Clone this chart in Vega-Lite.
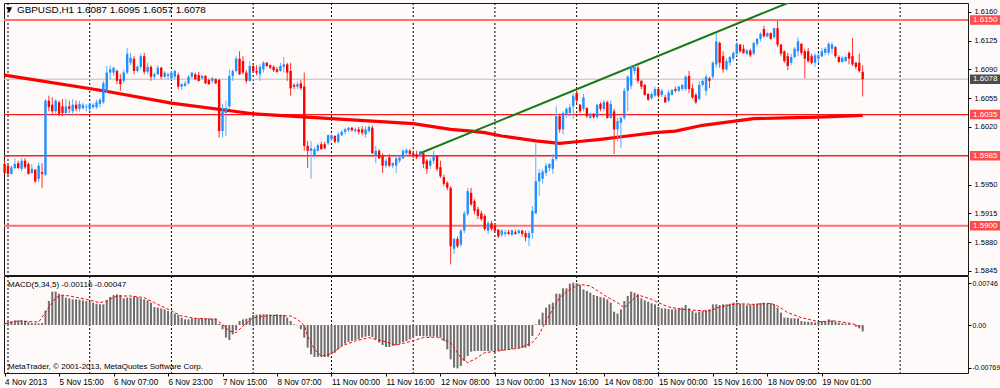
{
"$schema":"https://vega.github.io/schema/vega-lite/v6.json",
"background":"#FFFAFA",
"padding":{"left":2,"top":2,"right":0,"bottom":0},
"spacing":1,
"bounds":"flush",
"config":{
"font":"Liberation Sans, sans-serif",
"view":{"stroke":"#1a1a1a","strokeWidth":1,"fill":"#FFFAFA"},
"axis":{"labelFont":"Liberation Sans, sans-serif","labelFontSize":8,"labelColor":"#000","tickColor":"#000","domain":false,"grid":false,"labelOverlap":false,"labelFlush":false}
},
"datasets":{
"grid":[{"i":1},{"i":25},{"i":49},{"i":73},{"i":96},{"i":120},{"i":144},{"i":168},{"i":192},{"i":215},{"i":239},{"i":263}],
"thick":[{"p":1.615},{"p":1.59}],
"thin":[{"p":1.6035},{"p":1.5985}],
"bid":[{"p":1.6078}],
"lv":[{"p":1.615},{"p":1.6035},{"p":1.5985},{"p":1.59}],
"trend":[{"i":122,"v":1.5988},{"i":232,"v":1.6174}],
"ma":[{"i":0,"v":1.6083},{"i":29,"v":1.6064},{"i":49,"v":1.6049},{"i":73,"v":1.6036},{"i":96,"v":1.6030},{"i":120,"v":1.6024},{"i":131,"v":1.6017},{"i":137,"v":1.6015},{"i":141,"v":1.6013},{"i":146,"v":1.6009},{"i":156,"v":1.6003},{"i":163,"v":1.6000},{"i":168,"v":1.6002},{"i":175,"v":1.6005},{"i":183,"v":1.6009},{"i":191,"v":1.6013},{"i":197,"v":1.6015},{"i":205,"v":1.6022},{"i":220,"v":1.6030},{"i":229,"v":1.6031},{"i":239,"v":1.6032},{"i":252,"v":1.6034}],
"sig":[{"i":0,"s":0.00024},{"i":4,"s":0.00072},{"i":10,"s":0.00054},{"i":13,"s":0.0031},{"i":15,"s":0.00489},{"i":17,"s":0.00536},{"i":19,"s":0.00519},{"i":24,"s":0.00459},{"i":28,"s":0.00399},{"i":30,"s":0.00429},{"i":33,"s":0.00519},{"i":37,"s":0.00519},{"i":41,"s":0.00489},{"i":44,"s":0.00399},{"i":48,"s":0.0028},{"i":52,"s":0.00161},{"i":56,"s":0.00119},{"i":62,"s":0.00101},{"i":64,"s":0.00012},{"i":66,"s":-0.00107},{"i":68,"s":-0.00137},{"i":70,"s":-0.00018},{"i":73,"s":0.00131},{"i":78,"s":0.00173},{"i":84,"s":0.00161},{"i":86,"s":0.00101},{"i":88,"s":-0.0001},{"i":89,"s":-0.00197},{"i":91,"s":-0.00435},{"i":93,"s":-0.00554},{"i":96,"s":-0.00513},{"i":99,"s":-0.00375},{"i":103,"s":-0.00286},{"i":107,"s":-0.00226},{"i":111,"s":-0.00286},{"i":115,"s":-0.00358},{"i":119,"s":-0.00298},{"i":123,"s":-0.00226},{"i":127,"s":-0.00215},{"i":131,"s":-0.00316},{"i":134,"s":-0.00584},{"i":136,"s":-0.00673},{"i":138,"s":-0.00614},{"i":141,"s":-0.00495},{"i":145,"s":-0.00465},{"i":146,"s":-0.00453},{"i":151,"s":-0.00417},{"i":155,"s":-0.00316},{"i":157,"s":-0.00167},{"i":159,"s":0.00072},{"i":161,"s":0.0028},{"i":163,"s":0.00489},{"i":166,"s":0.00638},{"i":169,"s":0.00727},{"i":172,"s":0.00697},{"i":175,"s":0.00578},{"i":177,"s":0.005},{"i":180,"s":0.00399},{"i":182,"s":0.0031},{"i":184,"s":0.00429},{"i":186,"s":0.00536},{"i":188,"s":0.005},{"i":190,"s":0.00459},{"i":192,"s":0.00399},{"i":195,"s":0.00322},{"i":199,"s":0.0028},{"i":203,"s":0.00262},{"i":207,"s":0.0025},{"i":210,"s":0.00322},{"i":215,"s":0.00381},{"i":220,"s":0.0037},{"i":225,"s":0.00387},{"i":227,"s":0.0034},{"i":230,"s":0.0022},{"i":234,"s":0.00131},{"i":239,"s":0.0006},{"i":244,"s":0.00072},{"i":249,"s":0.00024},{"i":252,"s":-0.00047}],
"bars":[
{"i":0,"o":1.5975,"h":1.5979,"l":1.5963,"c":1.5964,"m":0.00024},
{"i":1,"o":1.5973,"h":1.5974,"l":1.5960,"c":1.5963,"m":0.0005},
{"i":2,"o":1.5963,"h":1.5973,"l":1.5962,"c":1.5971,"m":0.0007},
{"i":3,"o":1.5970,"h":1.5982,"l":1.5969,"c":1.5975,"m":0.00083},
{"i":4,"o":1.5976,"h":1.5979,"l":1.5969,"c":1.5970,"m":0.00083},
{"i":5,"o":1.5969,"h":1.5982,"l":1.5966,"c":1.5979,"m":0.00083},
{"i":6,"o":1.5979,"h":1.5982,"l":1.5969,"c":1.5971,"m":0.00075},
{"i":7,"o":1.5975,"h":1.5977,"l":1.5962,"c":1.5963,"m":0.0005},
{"i":8,"o":1.5964,"h":1.5975,"l":1.5963,"c":1.5969,"m":0.00035},
{"i":9,"o":1.5968,"h":1.5969,"l":1.5952,"c":1.5954,"m":0.0003},
{"i":10,"o":1.5957,"h":1.5977,"l":1.5953,"c":1.5973,"m":0.0003},
{"i":11,"o":1.5965,"h":1.5976,"l":1.5946,"c":1.5963,"m":0.00035},
{"i":12,"o":1.5962,"h":1.6054,"l":1.5960,"c":1.6052,"m":0.0026},
{"i":13,"o":1.6052,"h":1.6058,"l":1.6039,"c":1.6044,"m":0.0043},
{"i":14,"o":1.6047,"h":1.6056,"l":1.6036,"c":1.6039,"m":0.00596},
{"i":15,"o":1.6039,"h":1.6054,"l":1.6036,"c":1.6052,"m":0.00596},
{"i":16,"o":1.6050,"h":1.6052,"l":1.6033,"c":1.6036,"m":0.0056},
{"i":17,"o":1.6045,"h":1.6054,"l":1.6033,"c":1.6037,"m":0.00536},
{"i":18,"o":1.6037,"h":1.6054,"l":1.6034,"c":1.6045,"m":0.00489},
{"i":19,"o":1.6045,"h":1.6052,"l":1.6037,"c":1.6042,"m":0.00477},
{"i":20,"o":1.6039,"h":1.6054,"l":1.6033,"c":1.6047,"m":0.00459},
{"i":21,"o":1.6047,"h":1.6052,"l":1.6039,"c":1.6042,"m":0.00459},
{"i":22,"o":1.6042,"h":1.6052,"l":1.6039,"c":1.6048,"m":0.00453},
{"i":23,"o":1.6043,"h":1.6049,"l":1.6041,"c":1.6047,"m":0.00441},
{"i":24,"o":1.6044,"h":1.6048,"l":1.6039,"c":1.6045,"m":0.00429},
{"i":25,"o":1.6042,"h":1.6050,"l":1.6039,"c":1.6048,"m":0.00417},
{"i":26,"o":1.6044,"h":1.6049,"l":1.6042,"c":1.6047,"m":0.00399},
{"i":27,"o":1.6044,"h":1.6053,"l":1.6042,"c":1.6050,"m":0.00381},
{"i":28,"o":1.6048,"h":1.6055,"l":1.6044,"c":1.6053,"m":0.0037},
{"i":29,"o":1.6050,"h":1.6076,"l":1.6048,"c":1.6073,"m":0.0037},
{"i":30,"o":1.6064,"h":1.6094,"l":1.6061,"c":1.6086,"m":0.00441},
{"i":31,"o":1.6086,"h":1.6095,"l":1.6078,"c":1.6090,"m":0.005},
{"i":32,"o":1.6086,"h":1.6093,"l":1.6082,"c":1.6092,"m":0.00536},
{"i":33,"o":1.6088,"h":1.6090,"l":1.6072,"c":1.6076,"m":0.00548},
{"i":34,"o":1.6078,"h":1.6084,"l":1.6064,"c":1.6072,"m":0.00536},
{"i":35,"o":1.6076,"h":1.6090,"l":1.6073,"c":1.6086,"m":0.00477},
{"i":36,"o":1.6086,"h":1.6116,"l":1.6084,"c":1.6109,"m":0.00489},
{"i":37,"o":1.6098,"h":1.6110,"l":1.6095,"c":1.6104,"m":0.00489},
{"i":38,"o":1.6103,"h":1.6106,"l":1.6084,"c":1.6088,"m":0.00513},
{"i":39,"o":1.6088,"h":1.6095,"l":1.6086,"c":1.6093,"m":0.005},
{"i":40,"o":1.6093,"h":1.6109,"l":1.6090,"c":1.6106,"m":0.00477},
{"i":41,"o":1.6106,"h":1.6110,"l":1.6084,"c":1.6087,"m":0.00459},
{"i":42,"o":1.6087,"h":1.6098,"l":1.6084,"c":1.6093,"m":0.00441},
{"i":43,"o":1.6093,"h":1.6095,"l":1.6076,"c":1.6081,"m":0.00399},
{"i":44,"o":1.6081,"h":1.6086,"l":1.6078,"c":1.6084,"m":0.00322},
{"i":45,"o":1.6084,"h":1.6095,"l":1.6083,"c":1.6092,"m":0.0031},
{"i":46,"o":1.6092,"h":1.6093,"l":1.6078,"c":1.6081,"m":0.00298},
{"i":47,"o":1.6081,"h":1.6088,"l":1.6079,"c":1.6086,"m":0.0028},
{"i":48,"o":1.6082,"h":1.6086,"l":1.6078,"c":1.6084,"m":0.0025},
{"i":49,"o":1.6079,"h":1.6088,"l":1.6077,"c":1.6086,"m":0.0022},
{"i":50,"o":1.6081,"h":1.6090,"l":1.6078,"c":1.6088,"m":0.00203},
{"i":51,"o":1.6083,"h":1.6086,"l":1.6066,"c":1.6069,"m":0.00179},
{"i":52,"o":1.6069,"h":1.6073,"l":1.6065,"c":1.6072,"m":0.00131},
{"i":53,"o":1.6070,"h":1.6076,"l":1.6069,"c":1.6073,"m":0.00101},
{"i":54,"o":1.6073,"h":1.6083,"l":1.6072,"c":1.6081,"m":0.00101},
{"i":55,"o":1.6081,"h":1.6087,"l":1.6079,"c":1.6086,"m":0.00119},
{"i":56,"o":1.6084,"h":1.6086,"l":1.6077,"c":1.6078,"m":0.00125},
{"i":57,"o":1.6083,"h":1.6087,"l":1.6075,"c":1.6076,"m":0.00119},
{"i":58,"o":1.6079,"h":1.6083,"l":1.6078,"c":1.6082,"m":0.00125},
{"i":59,"o":1.6082,"h":1.6083,"l":1.6072,"c":1.6073,"m":0.00119},
{"i":60,"o":1.6077,"h":1.6079,"l":1.6071,"c":1.6072,"m":0.00119},
{"i":61,"o":1.6076,"h":1.6081,"l":1.6073,"c":1.6079,"m":0.00113},
{"i":62,"o":1.6078,"h":1.6079,"l":1.6072,"c":1.6073,"m":0.00119},
{"i":63,"o":1.6077,"h":1.6079,"l":1.6007,"c":1.6015,"m":0.0002},
{"i":64,"o":1.6015,"h":1.6048,"l":1.6007,"c":1.6039,"m":-0.00077},
{"i":65,"o":1.6037,"h":1.6052,"l":1.6009,"c":1.6043,"m":-0.00226},
{"i":66,"o":1.6045,"h":1.6090,"l":1.6042,"c":1.6082,"m":-0.00268},
{"i":67,"o":1.6082,"h":1.6090,"l":1.6076,"c":1.6088,"m":-0.00167},
{"i":68,"o":1.6088,"h":1.6106,"l":1.6086,"c":1.6103,"m":-0.00095},
{"i":69,"o":1.6103,"h":1.6112,"l":1.6083,"c":1.6084,"m":0.00072},
{"i":70,"o":1.6100,"h":1.6106,"l":1.6084,"c":1.6086,"m":0.00101},
{"i":71,"o":1.6086,"h":1.6089,"l":1.6073,"c":1.6076,"m":0.00113},
{"i":72,"o":1.6076,"h":1.6100,"l":1.6075,"c":1.6094,"m":0.00131},
{"i":73,"o":1.6094,"h":1.6096,"l":1.6086,"c":1.6088,"m":0.00179},
{"i":74,"o":1.6088,"h":1.6095,"l":1.6083,"c":1.6086,"m":0.00185},
{"i":75,"o":1.6084,"h":1.6096,"l":1.6076,"c":1.6093,"m":0.00191},
{"i":76,"o":1.6090,"h":1.6100,"l":1.6086,"c":1.6098,"m":0.00191},
{"i":77,"o":1.6098,"h":1.6099,"l":1.6093,"c":1.6094,"m":0.00191},
{"i":78,"o":1.6095,"h":1.6096,"l":1.6090,"c":1.6092,"m":0.00185},
{"i":79,"o":1.6093,"h":1.6095,"l":1.6087,"c":1.6089,"m":0.00185},
{"i":80,"o":1.6090,"h":1.6093,"l":1.6086,"c":1.6087,"m":0.00191},
{"i":81,"o":1.6088,"h":1.6098,"l":1.6087,"c":1.6094,"m":0.00185},
{"i":82,"o":1.6093,"h":1.6105,"l":1.6086,"c":1.6096,"m":0.0018},
{"i":83,"o":1.6096,"h":1.6098,"l":1.6076,"c":1.6086,"m":0.00131},
{"i":84,"o":1.6088,"h":1.6098,"l":1.6058,"c":1.6067,"m":0.00072},
{"i":85,"o":1.6071,"h":1.6073,"l":1.6066,"c":1.6069,"m":0.00012},
{"i":86,"o":1.6069,"h":1.6075,"l":1.6066,"c":1.6072,"m":-0.00006},
{"i":87,"o":1.6073,"h":1.6077,"l":1.6065,"c":1.6067,"m":-0.00077},
{"i":88,"o":1.6069,"h":1.6086,"l":1.5991,"c":1.5997,"m":-0.00226},
{"i":89,"o":1.5997,"h":1.6003,"l":1.5970,"c":1.5991,"m":-0.00405},
{"i":90,"o":1.5991,"h":1.6003,"l":1.5957,"c":1.5994,"m":-0.00524},
{"i":91,"o":1.5985,"h":1.5996,"l":1.5982,"c":1.5993,"m":-0.00572},
{"i":92,"o":1.5991,"h":1.6000,"l":1.5990,"c":1.5998,"m":-0.00572},
{"i":93,"o":1.5999,"h":1.6002,"l":1.5992,"c":1.5993,"m":-0.00572},
{"i":94,"o":1.5999,"h":1.6002,"l":1.5993,"c":1.5994,"m":-0.00572},
{"i":95,"o":1.6000,"h":1.6011,"l":1.5998,"c":1.6010,"m":-0.00572},
{"i":96,"o":1.6005,"h":1.6011,"l":1.6003,"c":1.6010,"m":-0.00524},
{"i":97,"o":1.6009,"h":1.6010,"l":1.6000,"c":1.6002,"m":-0.00495},
{"i":98,"o":1.6002,"h":1.6014,"l":1.6000,"c":1.6011,"m":-0.00435},
{"i":99,"o":1.6010,"h":1.6016,"l":1.6009,"c":1.6014,"m":-0.00375},
{"i":100,"o":1.6014,"h":1.6019,"l":1.6011,"c":1.6017,"m":-0.00334},
{"i":101,"o":1.6016,"h":1.6020,"l":1.6014,"c":1.6019,"m":-0.00304},
{"i":102,"o":1.6019,"h":1.6020,"l":1.6014,"c":1.6016,"m":-0.00286},
{"i":103,"o":1.6015,"h":1.6019,"l":1.6013,"c":1.6017,"m":-0.00268},
{"i":104,"o":1.6017,"h":1.6020,"l":1.6011,"c":1.6014,"m":-0.00256},
{"i":105,"o":1.6017,"h":1.6021,"l":1.6010,"c":1.6013,"m":-0.00226},
{"i":106,"o":1.6011,"h":1.6021,"l":1.6007,"c":1.6017,"m":-0.00209},
{"i":107,"o":1.6015,"h":1.6022,"l":1.6013,"c":1.6020,"m":-0.00197},
{"i":108,"o":1.6019,"h":1.6022,"l":1.5987,"c":1.5988,"m":-0.00215},
{"i":109,"o":1.5985,"h":1.5997,"l":1.5976,"c":1.5991,"m":-0.00256},
{"i":110,"o":1.5991,"h":1.5993,"l":1.5981,"c":1.5982,"m":-0.00316},
{"i":111,"o":1.5985,"h":1.5988,"l":1.5964,"c":1.5973,"m":-0.00358},
{"i":112,"o":1.5973,"h":1.5982,"l":1.5970,"c":1.5979,"m":-0.00393},
{"i":113,"o":1.5983,"h":1.5987,"l":1.5971,"c":1.5973,"m":-0.00393},
{"i":114,"o":1.5973,"h":1.5977,"l":1.5970,"c":1.5976,"m":-0.00375},
{"i":115,"o":1.5973,"h":1.5985,"l":1.5964,"c":1.5982,"m":-0.00364},
{"i":116,"o":1.5979,"h":1.5985,"l":1.5976,"c":1.5983,"m":-0.00334},
{"i":117,"o":1.5982,"h":1.5993,"l":1.5981,"c":1.5991,"m":-0.00304},
{"i":118,"o":1.5988,"h":1.5994,"l":1.5985,"c":1.5992,"m":-0.00286},
{"i":119,"o":1.5991,"h":1.5993,"l":1.5985,"c":1.5987,"m":-0.00256},
{"i":120,"o":1.5988,"h":1.5991,"l":1.5982,"c":1.5985,"m":-0.00215},
{"i":121,"o":1.5987,"h":1.5991,"l":1.5981,"c":1.5983,"m":-0.00197},
{"i":122,"o":1.5985,"h":1.5991,"l":1.5982,"c":1.5990,"m":-0.00197},
{"i":123,"o":1.5988,"h":1.5990,"l":1.5970,"c":1.5975,"m":-0.00203},
{"i":124,"o":1.5979,"h":1.5981,"l":1.5963,"c":1.5969,"m":-0.00203},
{"i":125,"o":1.5973,"h":1.5982,"l":1.5969,"c":1.5979,"m":-0.00209},
{"i":126,"o":1.5979,"h":1.5991,"l":1.5975,"c":1.5986,"m":-0.00203},
{"i":127,"o":1.5985,"h":1.5986,"l":1.5966,"c":1.5969,"m":-0.00209},
{"i":128,"o":1.5971,"h":1.5979,"l":1.5958,"c":1.5960,"m":-0.00226},
{"i":129,"o":1.5959,"h":1.5962,"l":1.5948,"c":1.5951,"m":-0.00286},
{"i":130,"o":1.5952,"h":1.5954,"l":1.5943,"c":1.5946,"m":-0.00435},
{"i":131,"o":1.5946,"h":1.5948,"l":1.5853,"c":1.5875,"m":-0.00614},
{"i":132,"o":1.5872,"h":1.5885,"l":1.5866,"c":1.5884,"m":-0.00763},
{"i":133,"o":1.5884,"h":1.5887,"l":1.5873,"c":1.5875,"m":-0.00775},
{"i":134,"o":1.5877,"h":1.5896,"l":1.5874,"c":1.5894,"m":-0.00733},
{"i":135,"o":1.5894,"h":1.5918,"l":1.5891,"c":1.5915,"m":-0.00644},
{"i":136,"o":1.5914,"h":1.5946,"l":1.5912,"c":1.5942,"m":-0.00554},
{"i":137,"o":1.5940,"h":1.5946,"l":1.5924,"c":1.5926,"m":-0.00477},
{"i":138,"o":1.5930,"h":1.5932,"l":1.5914,"c":1.5918,"m":-0.00465},
{"i":139,"o":1.5920,"h":1.5923,"l":1.5908,"c":1.5912,"m":-0.00465},
{"i":140,"o":1.5915,"h":1.5918,"l":1.5906,"c":1.5908,"m":-0.00465},
{"i":141,"o":1.5912,"h":1.5914,"l":1.5894,"c":1.5896,"m":-0.00465},
{"i":142,"o":1.5894,"h":1.5906,"l":1.5890,"c":1.5903,"m":-0.00465},
{"i":143,"o":1.5903,"h":1.5906,"l":1.5894,"c":1.5896,"m":-0.00465},
{"i":144,"o":1.5900,"h":1.5903,"l":1.5892,"c":1.5894,"m":-0.00465},
{"i":145,"o":1.5895,"h":1.5896,"l":1.5885,"c":1.5887,"m":-0.00465},
{"i":146,"o":1.5889,"h":1.5896,"l":1.5886,"c":1.5894,"m":-0.0046},
{"i":147,"o":1.5890,"h":1.5895,"l":1.5887,"c":1.5892,"m":-0.0045},
{"i":148,"o":1.5892,"h":1.5895,"l":1.5889,"c":1.5890,"m":-0.0044},
{"i":149,"o":1.5889,"h":1.5896,"l":1.5887,"c":1.5894,"m":-0.0043},
{"i":150,"o":1.5892,"h":1.5895,"l":1.5889,"c":1.5890,"m":-0.0042},
{"i":151,"o":1.5891,"h":1.5896,"l":1.5889,"c":1.5894,"m":-0.00415},
{"i":152,"o":1.5894,"h":1.5895,"l":1.5887,"c":1.5890,"m":-0.0041},
{"i":153,"o":1.5891,"h":1.5894,"l":1.5881,"c":1.5886,"m":-0.00405},
{"i":154,"o":1.5885,"h":1.5894,"l":1.5875,"c":1.5891,"m":-0.0038},
{"i":155,"o":1.5891,"h":1.5924,"l":1.5884,"c":1.5918,"m":-0.00197},
{"i":156,"o":1.5915,"h":1.6000,"l":1.5914,"c":1.5954,"m":0.0001},
{"i":157,"o":1.5954,"h":1.5969,"l":1.5936,"c":1.5964,"m":0.001},
{"i":158,"o":1.5957,"h":1.5969,"l":1.5951,"c":1.5966,"m":0.0022},
{"i":159,"o":1.5964,"h":1.5976,"l":1.5960,"c":1.5973,"m":0.0031},
{"i":160,"o":1.5970,"h":1.5976,"l":1.5966,"c":1.5975,"m":0.0037},
{"i":161,"o":1.5969,"h":1.5987,"l":1.5963,"c":1.5981,"m":0.004},
{"i":162,"o":1.5981,"h":1.6045,"l":1.5979,"c":1.6033,"m":0.0056},
{"i":163,"o":1.6033,"h":1.6036,"l":1.6013,"c":1.6017,"m":0.0056},
{"i":164,"o":1.6017,"h":1.6039,"l":1.6011,"c":1.6037,"m":0.00656},
{"i":165,"o":1.6036,"h":1.6044,"l":1.6031,"c":1.6042,"m":0.00656},
{"i":166,"o":1.6037,"h":1.6048,"l":1.6033,"c":1.6044,"m":0.0074},
{"i":167,"o":1.6045,"h":1.6061,"l":1.6030,"c":1.6058,"m":0.00757},
{"i":168,"o":1.6061,"h":1.6064,"l":1.6049,"c":1.6052,"m":0.0075},
{"i":169,"o":1.6047,"h":1.6048,"l":1.6037,"c":1.6039,"m":0.00715},
{"i":170,"o":1.6042,"h":1.6060,"l":1.6039,"c":1.6056,"m":0.00638},
{"i":171,"o":1.6043,"h":1.6044,"l":1.6031,"c":1.6033,"m":0.00608},
{"i":172,"o":1.6031,"h":1.6037,"l":1.6030,"c":1.6036,"m":0.00578},
{"i":173,"o":1.6036,"h":1.6037,"l":1.6030,"c":1.6032,"m":0.00536},
{"i":174,"o":1.6032,"h":1.6048,"l":1.6030,"c":1.6047,"m":0.00519},
{"i":175,"o":1.6048,"h":1.6050,"l":1.6039,"c":1.6042,"m":0.005},
{"i":176,"o":1.6042,"h":1.6053,"l":1.6039,"c":1.6050,"m":0.00489},
{"i":177,"o":1.6050,"h":1.6052,"l":1.6030,"c":1.6031,"m":0.00459},
{"i":178,"o":1.6031,"h":1.6052,"l":1.6030,"c":1.6048,"m":0.00399},
{"i":179,"o":1.6039,"h":1.6042,"l":1.5987,"c":1.6017,"m":0.00238},
{"i":180,"o":1.6017,"h":1.6031,"l":1.6003,"c":1.6027,"m":0.00203},
{"i":181,"o":1.6025,"h":1.6033,"l":1.5994,"c":1.6031,"m":0.0028},
{"i":182,"o":1.6031,"h":1.6067,"l":1.6028,"c":1.6064,"m":0.00429},
{"i":183,"o":1.6064,"h":1.6083,"l":1.6039,"c":1.6081,"m":0.00519},
{"i":184,"o":1.6070,"h":1.6095,"l":1.6066,"c":1.6093,"m":0.00596},
{"i":185,"o":1.6088,"h":1.6095,"l":1.6084,"c":1.6093,"m":0.00578},
{"i":186,"o":1.6092,"h":1.6094,"l":1.6073,"c":1.6076,"m":0.00548},
{"i":187,"o":1.6076,"h":1.6077,"l":1.6066,"c":1.6069,"m":0.00477},
{"i":188,"o":1.6071,"h":1.6072,"l":1.6058,"c":1.6059,"m":0.00441},
{"i":189,"o":1.6060,"h":1.6061,"l":1.6052,"c":1.6053,"m":0.00417},
{"i":190,"o":1.6055,"h":1.6062,"l":1.6053,"c":1.6060,"m":0.00387},
{"i":191,"o":1.6058,"h":1.6069,"l":1.6056,"c":1.6066,"m":0.0037},
{"i":192,"o":1.6066,"h":1.6067,"l":1.6055,"c":1.6058,"m":0.00322},
{"i":193,"o":1.6059,"h":1.6066,"l":1.6056,"c":1.6064,"m":0.00298},
{"i":194,"o":1.6056,"h":1.6059,"l":1.6049,"c":1.6050,"m":0.00298},
{"i":195,"o":1.6052,"h":1.6065,"l":1.6050,"c":1.6062,"m":0.00286},
{"i":196,"o":1.6059,"h":1.6066,"l":1.6058,"c":1.6065,"m":0.0028},
{"i":197,"o":1.6066,"h":1.6069,"l":1.6062,"c":1.6064,"m":0.0028},
{"i":198,"o":1.6064,"h":1.6070,"l":1.6062,"c":1.6069,"m":0.00298},
{"i":199,"o":1.6066,"h":1.6072,"l":1.6064,"c":1.6071,"m":0.0031},
{"i":200,"o":1.6066,"h":1.6083,"l":1.6064,"c":1.6081,"m":0.00358},
{"i":201,"o":1.6082,"h":1.6088,"l":1.6061,"c":1.6066,"m":0.00298},
{"i":202,"o":1.6067,"h":1.6072,"l":1.6054,"c":1.6056,"m":0.0025},
{"i":203,"o":1.6059,"h":1.6061,"l":1.6048,"c":1.6050,"m":0.0022},
{"i":204,"o":1.6054,"h":1.6076,"l":1.6052,"c":1.6071,"m":0.00238},
{"i":205,"o":1.6071,"h":1.6079,"l":1.6069,"c":1.6076,"m":0.0025},
{"i":206,"o":1.6064,"h":1.6084,"l":1.6058,"c":1.6081,"m":0.00262},
{"i":207,"o":1.6079,"h":1.6081,"l":1.6067,"c":1.6076,"m":0.0028},
{"i":208,"o":1.6081,"h":1.6100,"l":1.6078,"c":1.6098,"m":0.0037},
{"i":209,"o":1.6096,"h":1.6134,"l":1.6092,"c":1.6124,"m":0.0037},
{"i":210,"o":1.6122,"h":1.6124,"l":1.6092,"c":1.6098,"m":0.00358},
{"i":211,"o":1.6106,"h":1.6112,"l":1.6086,"c":1.6090,"m":0.0037},
{"i":212,"o":1.6090,"h":1.6103,"l":1.6088,"c":1.6100,"m":0.0037},
{"i":213,"o":1.6098,"h":1.6106,"l":1.6094,"c":1.6105,"m":0.00381},
{"i":214,"o":1.6103,"h":1.6112,"l":1.6100,"c":1.6110,"m":0.00399},
{"i":215,"o":1.6109,"h":1.6123,"l":1.6106,"c":1.6121,"m":0.00399},
{"i":216,"o":1.6120,"h":1.6121,"l":1.6110,"c":1.6112,"m":0.00381},
{"i":217,"o":1.6115,"h":1.6120,"l":1.6109,"c":1.6110,"m":0.0037},
{"i":218,"o":1.6109,"h":1.6115,"l":1.6107,"c":1.6113,"m":0.00352},
{"i":219,"o":1.6113,"h":1.6115,"l":1.6105,"c":1.6107,"m":0.0037},
{"i":220,"o":1.6109,"h":1.6124,"l":1.6107,"c":1.6122,"m":0.0037},
{"i":221,"o":1.6121,"h":1.6128,"l":1.6118,"c":1.6127,"m":0.00381},
{"i":222,"o":1.6127,"h":1.6135,"l":1.6124,"c":1.6133,"m":0.00393},
{"i":223,"o":1.6139,"h":1.6143,"l":1.6129,"c":1.6130,"m":0.00399},
{"i":224,"o":1.6130,"h":1.6135,"l":1.6129,"c":1.6134,"m":0.00381},
{"i":225,"o":1.6134,"h":1.6135,"l":1.6126,"c":1.6127,"m":0.00393},
{"i":226,"o":1.6129,"h":1.6141,"l":1.6127,"c":1.6140,"m":0.0037},
{"i":227,"o":1.6140,"h":1.6149,"l":1.6117,"c":1.6120,"m":0.0031},
{"i":228,"o":1.6120,"h":1.6121,"l":1.6106,"c":1.6109,"m":0.0022},
{"i":229,"o":1.6112,"h":1.6113,"l":1.6098,"c":1.6100,"m":0.00131},
{"i":230,"o":1.6106,"h":1.6110,"l":1.6089,"c":1.6094,"m":0.00131},
{"i":231,"o":1.6098,"h":1.6109,"l":1.6095,"c":1.6105,"m":0.00119},
{"i":232,"o":1.6105,"h":1.6117,"l":1.6103,"c":1.6115,"m":0.00119},
{"i":233,"o":1.6112,"h":1.6129,"l":1.6106,"c":1.6124,"m":0.00119},
{"i":234,"o":1.6121,"h":1.6122,"l":1.6107,"c":1.6110,"m":0.00072},
{"i":235,"o":1.6112,"h":1.6115,"l":1.6079,"c":1.6103,"m":0.0006},
{"i":236,"o":1.6112,"h":1.6116,"l":1.6098,"c":1.6100,"m":0.0006},
{"i":237,"o":1.6106,"h":1.6109,"l":1.6096,"c":1.6098,"m":0.00054},
{"i":238,"o":1.6098,"h":1.6110,"l":1.6093,"c":1.6107,"m":0.00042},
{"i":239,"o":1.6103,"h":1.6110,"l":1.6098,"c":1.6107,"m":0.0006},
{"i":240,"o":1.6106,"h":1.6116,"l":1.6104,"c":1.6112,"m":0.00072},
{"i":241,"o":1.6110,"h":1.6117,"l":1.6107,"c":1.6115,"m":0.00072},
{"i":242,"o":1.6110,"h":1.6123,"l":1.6107,"c":1.6121,"m":0.00101},
{"i":243,"o":1.6115,"h":1.6123,"l":1.6109,"c":1.6120,"m":0.00083},
{"i":244,"o":1.6117,"h":1.6118,"l":1.6104,"c":1.6106,"m":0.0006},
{"i":245,"o":1.6105,"h":1.6107,"l":1.6098,"c":1.6099,"m":0.00042},
{"i":246,"o":1.6099,"h":1.6106,"l":1.6098,"c":1.6104,"m":0.0003},
{"i":247,"o":1.6100,"h":1.6107,"l":1.6099,"c":1.6105,"m":0.00024},
{"i":248,"o":1.6110,"h":1.6112,"l":1.6096,"c":1.6103,"m":0.00024},
{"i":249,"o":1.6106,"h":1.6128,"l":1.6094,"c":1.6096,"m":0.00005},
{"i":250,"o":1.6098,"h":1.6099,"l":1.6090,"c":1.6093,"m":-0.0003},
{"i":251,"o":1.6098,"h":1.6109,"l":1.6086,"c":1.6088,"m":-0.0006},
{"i":252,"o":1.6087,"h":1.6095,"l":1.6057,"c":1.6078,"m":-0.00116}
]
},
"vconcat":[
{
"width":964,"height":272,
"resolve":{"axis":{"x":"independent","y":"independent"}},
"layer":[
{"data":{"name":"grid"},"mark":{"type":"rule","color":"#000","strokeDash":[2,2],"strokeWidth":1},
 "encoding":{"x":{"field":"i","type":"quantitative","scale":{"domain":[-0.176,282.93],"nice":false,"zero":false},"axis":null}}},
{"data":{"name":"thick"},"mark":{"type":"rule","color":"#FF6F6F","strokeWidth":2},
 "encoding":{"y":{"field":"p","type":"quantitative","scale":{"domain":[1.58401,1.61706],"nice":false,"zero":false},
   "axis":{"orient":"right","title":null,"values":[1.5845,1.588,1.5915,1.595,1.602,1.6055,1.609,1.6125,1.616],"format":".4f","tickSize":3,"labelPadding":3,"labelFontSize":7.5}}}},
{"data":{"name":"thin"},"mark":{"type":"rule","color":"#FF1A1A","strokeWidth":1.3},
 "encoding":{"y":{"field":"p","type":"quantitative","axis":null}}},
{"data":{"name":"bid"},"mark":{"type":"rule","color":"#BDBDBD","strokeWidth":1},
 "encoding":{"y":{"field":"p","type":"quantitative","axis":null}}},
{"data":{"name":"ma"},"mark":{"type":"line","color":"#FF0000","strokeWidth":3.2,"clip":true},
 "encoding":{"x":{"field":"i","type":"quantitative","axis":null},"y":{"field":"v","type":"quantitative","axis":null}}},
{"data":{"name":"trend"},"mark":{"type":"line","color":"#187A18","strokeWidth":2,"clip":true},
 "encoding":{"x":{"field":"i","type":"quantitative","axis":null},"y":{"field":"v","type":"quantitative","axis":null}}},
{"data":{"name":"bars"},"mark":{"type":"rule","strokeWidth":1},
 "encoding":{"x":{"field":"i","type":"quantitative","axis":null},"y":{"field":"l","type":"quantitative","axis":null},"y2":{"field":"h"},
   "color":{"condition":{"test":"datum.c >= datum.o","value":"#5AAEFF"},"value":"#FF3030"}}},
{"data":{"name":"bars"},"mark":{"type":"rule","strokeWidth":2.4},
 "encoding":{"x":{"field":"i","type":"quantitative","axis":null},"y":{"field":"o","type":"quantitative","axis":null},"y2":{"field":"c"},
   "color":{"condition":{"test":"datum.c >= datum.o","value":"#1E90FF"},"value":"#FF0000"}}},
{"data":{"name":"lv"},"mark":{"type":"tick","orient":"horizontal","size":32,"thickness":9.5,"color":"#FF0000","clip":false},
 "encoding":{"x":{"datum":288.2,"type":"quantitative","axis":null},"y":{"field":"p","type":"quantitative","axis":null}}},
{"data":{"name":"bid"},"mark":{"type":"tick","orient":"horizontal","size":32,"thickness":9.5,"color":"#000000","clip":false},
 "encoding":{"x":{"datum":288.2,"type":"quantitative","axis":null},"y":{"field":"p","type":"quantitative","axis":null}}},
{"data":{"name":"lv"},"mark":{"type":"text","color":"#FFFFFF","fontSize":8,"align":"left","baseline":"middle"},
 "encoding":{"x":{"datum":284.4,"type":"quantitative","axis":null},"y":{"field":"p","type":"quantitative","axis":null},"text":{"field":"p","type":"quantitative","format":".4f"}}},
{"data":{"name":"bid"},"mark":{"type":"text","color":"#FFFFFF","fontSize":8,"align":"left","baseline":"middle"},
 "encoding":{"x":{"datum":284.4,"type":"quantitative","axis":null},"y":{"field":"p","type":"quantitative","axis":null},"text":{"field":"p","type":"quantitative","format":".4f"}}},
{"data":{"values":[{"t":"▼"}]},"mark":{"type":"text","color":"#000","fontSize":7.5,"align":"center","baseline":"middle","font":"DejaVu Sans"},
 "encoding":{"x":{"datum":1.3,"type":"quantitative","axis":null},"y":{"datum":1.6162,"type":"quantitative","axis":null},"text":{"field":"t"}}},
{"data":{"values":[{"t":"GBPUSD,H1  1.6087 1.6095 1.6057 1.6078"}]},"mark":{"type":"text","color":"#000","fontSize":9.9,"align":"left","baseline":"middle"},
 "encoding":{"x":{"datum":3.64,"type":"quantitative","axis":null},"y":{"datum":1.6162,"type":"quantitative","axis":null},"text":{"field":"t"}}}
]
},
{
"width":964,"height":97,
"resolve":{"axis":{"x":"independent","y":"independent"}},
"layer":[
{"data":{"name":"grid"},"mark":{"type":"rule","color":"#000","strokeDash":[2,2],"strokeWidth":1},
 "encoding":{"x":{"field":"i","type":"quantitative","scale":{"domain":[-0.176,282.93],"nice":false,"zero":false},"axis":null}}},
{"data":{"name":"bars"},"mark":{"type":"rule","color":"#6E6E6E","strokeWidth":2},
 "encoding":{"x":{"field":"i","type":"quantitative",
   "axis":{"title":null,"values":[0,16,32,48,64,80,96,112,128,144,160,176,192,208,224,240],"labelExpr":"['4 Nov 2013','5 Nov 15:00','6 Nov 07:00','6 Nov 23:00','7 Nov 15:00','8 Nov 07:00','11 Nov 00:00','11 Nov 16:00','12 Nov 08:00','13 Nov 00:00','13 Nov 16:00','14 Nov 08:00','15 Nov 00:00','15 Nov 16:00','18 Nov 09:00','19 Nov 01:00'][datum.value/16]","labelAlign":"left","labelFontSize":8.2,"tickSize":3,"labelPadding":2}},
   "y":{"field":"m","type":"quantitative","scale":{"domain":[-0.008587,0.008766],"nice":false,"zero":false},
   "axis":{"orient":"right","title":null,"values":[0.00746,0,-0.00769],"labelExpr":"datum.value == 0 ? '0.00' : (datum.value < 0 ? '-' : '') + format(abs(datum.value), '.5f')","tickSize":3,"labelPadding":1,"labelFontSize":7}},
   "y2":{"datum":0}}},
{"data":{"name":"sig"},"mark":{"type":"line","color":"#FF0000","strokeWidth":1,"strokeDash":[3,2]},
 "encoding":{"x":{"field":"i","type":"quantitative","axis":null},"y":{"field":"s","type":"quantitative","axis":null}}},
{"data":{"values":[{"t":"MACD(5,34,5) -0.00116 -0.00047"}]},"mark":{"type":"text","color":"#000","fontSize":8,"align":"left","baseline":"middle"},
 "encoding":{"x":{"datum":1.0,"type":"quantitative","axis":null},"y":{"datum":0.00716,"type":"quantitative","axis":null},"text":{"field":"t"}}},
{"data":{"values":[{"t":"MetaTrader, © 2001-2013, MetaQuotes Software Corp."}]},"mark":{"type":"text","color":"#000","fontSize":8,"align":"left","baseline":"middle"},
 "encoding":{"x":{"datum":1.0,"type":"quantitative","axis":null},"y":{"datum":-0.0076,"type":"quantitative","axis":null},"text":{"field":"t"}}}
]
}
]
}
